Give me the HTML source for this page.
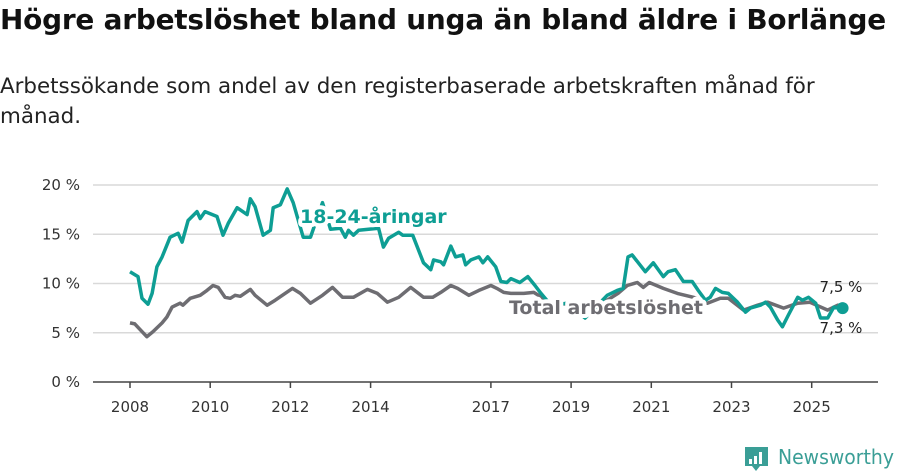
<!DOCTYPE html>
<html><head><meta charset="utf-8">
<style>
body{margin:0;background:#fff;width:900px;height:474px;overflow:hidden;font-family:"Liberation Sans","DejaVu Sans",sans-serif;}
.t{position:absolute;left:0;top:3px;font-size:27.9px;font-weight:bold;color:#111;letter-spacing:-0.2px;font-family:"DejaVu Sans","Liberation Sans",sans-serif;white-space:nowrap;}
.s{position:absolute;left:0;top:72px;font-size:21.4px;color:#222;line-height:30px;width:845px;font-family:"DejaVu Sans","Liberation Sans",sans-serif;}
svg{position:absolute;left:0;top:0}
</style></head><body>
<div class="t">Högre arbetslöshet bland unga än bland äldre i Borlänge</div>
<div class="s">Arbetssökande som andel av den registerbaserade arbetskraften månad för månad.</div>
<svg id="c" width="900" height="474"></svg>
<script>
const yTicks=[0,5,10,15,20];
const yTickLabels=["0 %","5 %","10 %","15 %","20 %"];
const xTicks=[2008,2010,2012,2014,2017,2019,2021,2023,2025];
const youthYears=[2008.0,2008.2,2008.3,2008.45,2008.55,2008.67,2008.8,2009.0,2009.2,2009.3,2009.45,2009.67,2009.75,2009.87,2010.17,2010.32,2010.45,2010.67,2010.92,2011.0,2011.12,2011.32,2011.5,2011.57,2011.75,2011.92,2012.07,2012.32,2012.5,2012.8,2013.0,2013.25,2013.37,2013.45,2013.57,2013.7,2013.95,2014.2,2014.32,2014.45,2014.7,2014.8,2015.05,2015.32,2015.5,2015.57,2015.75,2015.82,2016.0,2016.12,2016.3,2016.37,2016.5,2016.7,2016.8,2016.92,2017.12,2017.25,2017.4,2017.5,2017.72,2017.92,2018.1,2018.25,2018.5,2018.9,2019.35,2019.9,2020.15,2020.3,2020.42,2020.52,2020.85,2021.05,2021.3,2021.42,2021.6,2021.8,2022.02,2022.17,2022.35,2022.47,2022.6,2022.77,2022.92,2023.15,2023.35,2023.47,2023.72,2023.85,2023.97,2024.15,2024.27,2024.42,2024.65,2024.77,2024.92,2025.1,2025.22,2025.4,2025.55,2025.77];
const youthValues=[11.2,10.7,8.5,7.9,9.0,11.7,12.7,14.7,15.1,14.2,16.4,17.3,16.6,17.3,16.8,14.9,16.1,17.7,17.0,18.6,17.8,14.9,15.4,17.7,18.0,19.6,18.2,14.7,14.7,18.2,15.5,15.6,14.7,15.4,14.9,15.4,15.5,15.6,13.7,14.6,15.2,14.9,14.9,12.1,11.4,12.4,12.2,11.9,13.8,12.7,12.9,11.9,12.4,12.7,12.1,12.7,11.7,10.2,10.1,10.5,10.1,10.7,9.8,9.0,7.8,8.0,6.5,8.8,9.3,9.5,12.7,12.9,11.2,12.1,10.7,11.2,11.4,10.2,10.2,9.3,8.3,8.6,9.5,9.1,9.0,8.1,7.1,7.5,7.8,8.1,7.6,6.3,5.6,6.8,8.6,8.3,8.6,8.0,6.5,6.5,7.6,7.5];
const totalYears=[2008.0,2008.12,2008.42,2008.57,2008.8,2008.92,2009.05,2009.25,2009.32,2009.5,2009.75,2009.92,2010.07,2010.2,2010.37,2010.5,2010.62,2010.75,2011.0,2011.12,2011.42,2011.62,2012.05,2012.25,2012.5,2012.8,2013.05,2013.3,2013.57,2013.92,2014.17,2014.42,2014.7,2015.0,2015.32,2015.55,2015.75,2016.0,2016.17,2016.45,2016.7,2017.0,2017.15,2017.32,2017.5,2017.82,2018.07,2018.5,2019.0,2019.5,2019.9,2020.17,2020.4,2020.65,2020.8,2020.95,2021.3,2021.65,2022.05,2022.4,2022.72,2022.92,2023.3,2023.65,2023.9,2024.3,2024.65,2024.95,2025.12,2025.4,2025.65,2025.77];
const totalValues=[6.0,5.9,4.6,5.1,6.0,6.6,7.6,8.0,7.8,8.5,8.8,9.3,9.8,9.6,8.6,8.5,8.8,8.7,9.4,8.8,7.8,8.3,9.5,9.0,8.0,8.8,9.6,8.6,8.6,9.4,9.0,8.1,8.6,9.6,8.6,8.6,9.1,9.8,9.5,8.8,9.3,9.8,9.5,9.1,9.0,9.0,9.1,8.0,7.9,7.9,8.3,9.0,9.8,10.1,9.6,10.1,9.5,9.0,8.6,8.0,8.5,8.5,7.3,7.8,8.1,7.5,8.0,8.1,7.8,7.3,7.8,7.3];
const NS='http://www.w3.org/2000/svg';
const svg=document.getElementById('c');
const x0=93,x1=878,yb=382,yt=185;
const F='DejaVu Sans, Liberation Sans, sans-serif';
function X(yr){return 130+(yr-2008)*40.1;}
function Y(v){return yb-(v/20)*(yb-yt);}
function mk(tag,attrs,parent){const e=document.createElementNS(NS,tag);for(const k in attrs)e.setAttribute(k,attrs[k]);(parent||svg).appendChild(e);return e;}
yTicks.forEach((v,i)=>{
  if(v>0){const g=mk('line',{x1:x0,x2:x1,y1:Y(v),y2:Y(v),stroke:'#d9d9d9','stroke-width':1.5});
  
  }
  const t=mk('text',{x:80,y:Y(v)+5,'text-anchor':'end','font-size':15,fill:'#333','font-family':F});
  t.textContent=yTickLabels[i];
  
  
});
const ax=mk('line',{x1:x0,x2:x1,y1:yb,y2:yb,stroke:'#444','stroke-width':1.5});


xTicks.forEach(yr=>{
  const tk=mk('line',{x1:X(yr),x2:X(yr),y1:yb,y2:yb+6,stroke:'#444','stroke-width':1.5});
  
  
  const t=mk('text',{x:X(yr),y:yb+30,'text-anchor':'middle','font-size':15,fill:'#333','font-family':F});
  t.textContent=String(yr);
  
  
});
function path(ys,vs){return ys.map((y,i)=>(i?'L':'M')+X(y).toFixed(1)+','+Y(vs[i]).toFixed(1)).join('');}
const tl=mk('path',{d:path(totalYears,totalValues),fill:'none',stroke:'#6e6d72','stroke-width':3.5,'stroke-linejoin':'round'});


const yl=mk('path',{d:path(youthYears,youthValues),fill:'none',stroke:'#0e9e94','stroke-width':3.5,'stroke-linejoin':'round'});


const ly=youthYears[youthYears.length-1],lv=youthValues[youthValues.length-1];
const dot=mk('circle',{cx:X(ly),cy:Y(lv),r:6,fill:'#0e9e94'});


const l1=mk('text',{x:300,y:223,'font-size':19,'font-weight':'bold',fill:'#0e9e94',stroke:'#fff','stroke-width':8,'paint-order':'stroke','stroke-linejoin':'round','font-family':F});
l1.textContent='18-24-åringar';


const l2=mk('text',{x:509,y:314,'font-size':19,'font-weight':'bold',fill:'#6e6d72',stroke:'#fff','stroke-width':8,'paint-order':'stroke','stroke-linejoin':'round','font-family':F});
l2.textContent='Total arbetslöshet';


const e1=mk('text',{x:841,y:292,'text-anchor':'middle','font-size':15,fill:'#222','font-family':F});
e1.textContent='7,5 %';


const e2=mk('text',{x:841,y:333,'text-anchor':'middle','font-size':15,fill:'#222','font-family':F});
e2.textContent='7,3 %';


const lg=mk('g',{});


mk('path',{d:'M745,447 h23 v19 h-8 l-4,5 l-4,-5 h-7 z',fill:'#3a9e96'},lg);
mk('rect',{x:749,y:459,width:3,height:5,fill:'#fff'},lg);
mk('rect',{x:754,y:456,width:3,height:8,fill:'#fff'},lg);
mk('rect',{x:759,y:452,width:3,height:12,fill:'#fff'},lg);
const lt=mk('text',{x:778,y:464,'font-size':20,fill:'#3a9e96','font-family':F,textLength:116,lengthAdjust:'spacingAndGlyphs'},lg);
lt.textContent='Newsworthy';
</script>
</body></html>
